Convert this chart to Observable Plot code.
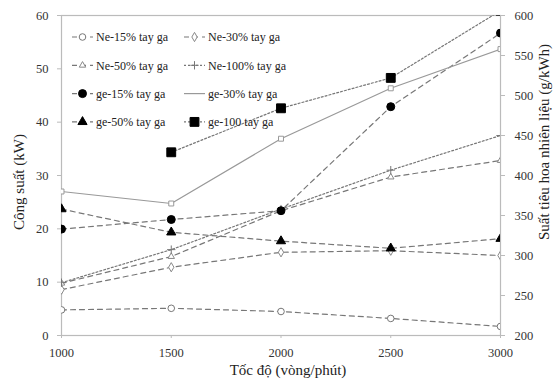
<!DOCTYPE html>
<html><head><meta charset="utf-8">
<script src="https://cdn.jsdelivr.net/npm/d3@7"></script>
<script src="https://cdn.jsdelivr.net/npm/@observablehq/plot@0.6"></script>
<style>body{margin:0;background:#fff}</style>
</head><body><div id="chart"></div>
<script>
const speeds = [1000, 1500, 2000, 2500, 3000];
const xTicks = [1000, 1500, 2000, 2500, 3000];
const leftTicks = [0, 10, 20, 30, 40, 50, 60];
const rightTicks = [200, 250, 300, 350, 400, 450, 500, 550, 600];
// Power (kW), left axis
const ne15 = [4.8, 5.1, 4.5, 3.2, 1.7];
const ne30 = [8.6, 12.8, 15.6, 15.9, 15.0];
const ne50 = [9.8, 14.8, 23.4, 29.7, 32.8];
const ne100 = [9.9, 16.1, 23.7, 31.0, 37.5];
// Specific fuel consumption (g/kWh), right axis
const ge15 = [333, 345, 356, 486, 578];
const ge30 = [380, 365, 446, 509, 558];
const ge50 = [358, 329, 318, 309, 321];
const ge100 = [null, 429, 484, 522, 606];

const toKW = g => (g - 200) * 60 / 400;
const fromKW = v => Math.round(v * 400 / 60 + 200);

const series = [
  {name: "Ne-15% tay ga", vals: ne15, right: false, dash: "5,4", stroke: "#777", symbol: "circle", fill: "white", mstroke: "#777", r: 3.3},
  {name: "Ne-30% tay ga", vals: ne30, right: false, dash: "5,4", stroke: "#777", symbol: "diamond", fill: "white", mstroke: "#888", r: 2.8},
  {name: "Ne-50% tay ga", vals: ne50, right: false, dash: "5,4", stroke: "#777", symbol: "triangle", fill: "white", mstroke: "#888", r: 2.4},
  {name: "Ne-100% tay ga", vals: ne100, right: false, dash: "2,2", stroke: "#777", symbol: "plus", fill: "none", mstroke: "#777", r: 2.8},
  {name: "ge-15% tay ga", vals: ge15, right: true, dash: "5,4", stroke: "#777", symbol: "circle", fill: "black", mstroke: "black", r: 4},
  {name: "ge-30% tay ga", vals: ge30, right: true, dash: null, stroke: "#999", symbol: "square", fill: "white", mstroke: "#999", r: 2.8},
  {name: "ge-50% tay ga", vals: ge50, right: true, dash: "5,4", stroke: "#777", symbol: "triangle", fill: "black", mstroke: "black", r: 3.4},
  {name: "ge-100 tay ga", vals: ge100, right: true, dash: "2,2", stroke: "#777", symbol: "square", fill: "black", mstroke: "black", r: 5}
];

const marks = [
  Plot.frame({stroke: "#bbb", strokeWidth: 1.2}),
  Plot.axisX({ticks: xTicks, tickSize: 3, tickPadding: 10, label: null, stroke: "#bbb", fill: "#333", tickFormat: d => String(d)}),
  Plot.axisY({ticks: leftTicks, anchor: "left", tickSize: 4, tickPadding: 9, label: null, stroke: "#bbb", fill: "#333"}),
  Plot.axisY(rightTicks.map(toKW), {anchor: "right", tickSize: 4, tickPadding: 10, label: null, stroke: "#bbb", fill: "#333", tickFormat: d => String(fromKW(d))})
];

for (const s of series) {
  const rows = speeds.map((sp, i) => ({x: sp, y: s.vals[i] == null ? null : (s.right ? toKW(s.vals[i]) : s.vals[i])})).filter(d => d.y != null);
  marks.push(Plot.line(rows, {x: "x", y: "y", stroke: s.stroke, strokeWidth: 1.2, strokeDasharray: s.dash || undefined, clip: "frame"}));
}
for (const s of series) {
  const rows = speeds.map((sp, i) => ({x: sp, y: s.vals[i] == null ? null : (s.right ? toKW(s.vals[i]) : s.vals[i])})).filter(d => d.y != null);
  marks.push(Plot.dot(rows, {x: "x", y: "y", symbol: () => s.symbol, r: s.r, fill: s.fill, stroke: s.mstroke, strokeWidth: 1, clip: "frame"}));
}

const chart = Plot.plot({
  width: 557, height: 379,
  marginLeft: 61, marginRight: 57, marginTop: 15, marginBottom: 44,
  style: {fontFamily: "Liberation Serif", fontSize: "12.5px", color: "#333", background: "white"},
  x: {domain: [1000, 3000]},
  y: {domain: [0, 60]},
  symbol: {type: "identity"},
  marks
});
document.getElementById("chart").append(chart);

const svg = d3.select(chart);
// axis titles
const tg = svg.append("g").attr("font-family", "Liberation Serif").attr("font-size", 15).attr("fill", "#222").attr("text-anchor", "middle");
tg.append("text").attr("transform", "translate(19,182) rotate(-90)").attr("dy", "0.35em").text("Công suất (kW)");
tg.append("text").attr("transform", "translate(544,142) rotate(-90)").attr("dy", "0.35em").text("Suất tiêu hoa nhiên liệu (g/kWh)");
tg.append("text").attr("x", 288).attr("y", 370).attr("dy", "0.35em").text("Tốc độ (vòng/phút)");

// legend inside the plot area
const lg = svg.append("g").attr("font-family", "Liberation Serif").attr("font-size", 12).attr("fill", "#222").attr("text-anchor", "start");
const symGen = {circle: d3.symbolCircle, diamond: d3.symbolDiamond, triangle: d3.symbolTriangle, plus: d3.symbolPlus, square: d3.symbolSquare};
series.forEach((s, i) => {
  const col = i % 2, row = Math.floor(i / 2);
  const x0 = col === 0 ? 72 : 184, y0 = 37 + row * 28.3;
  const g = lg.append("g").attr("transform", `translate(${x0},${y0})`);
  g.append("line").attr("x1", 0).attr("x2", 21).attr("y1", 0).attr("y2", 0)
    .attr("stroke", s.stroke).attr("stroke-width", 1.2).attr("stroke-dasharray", s.dash || null);
  if (s.dash !== null) {
    const area = Math.PI * s.r * s.r;
    g.append("path").attr("d", d3.symbol(symGen[s.symbol], area)()).attr("transform", "translate(10.5,0)")
      .attr("fill", s.fill).attr("stroke", s.mstroke);
  }
  g.append("text").attr("x", 24).attr("y", 0).attr("dy", "0.35em").text(s.name);
});
</script>
</body></html>
